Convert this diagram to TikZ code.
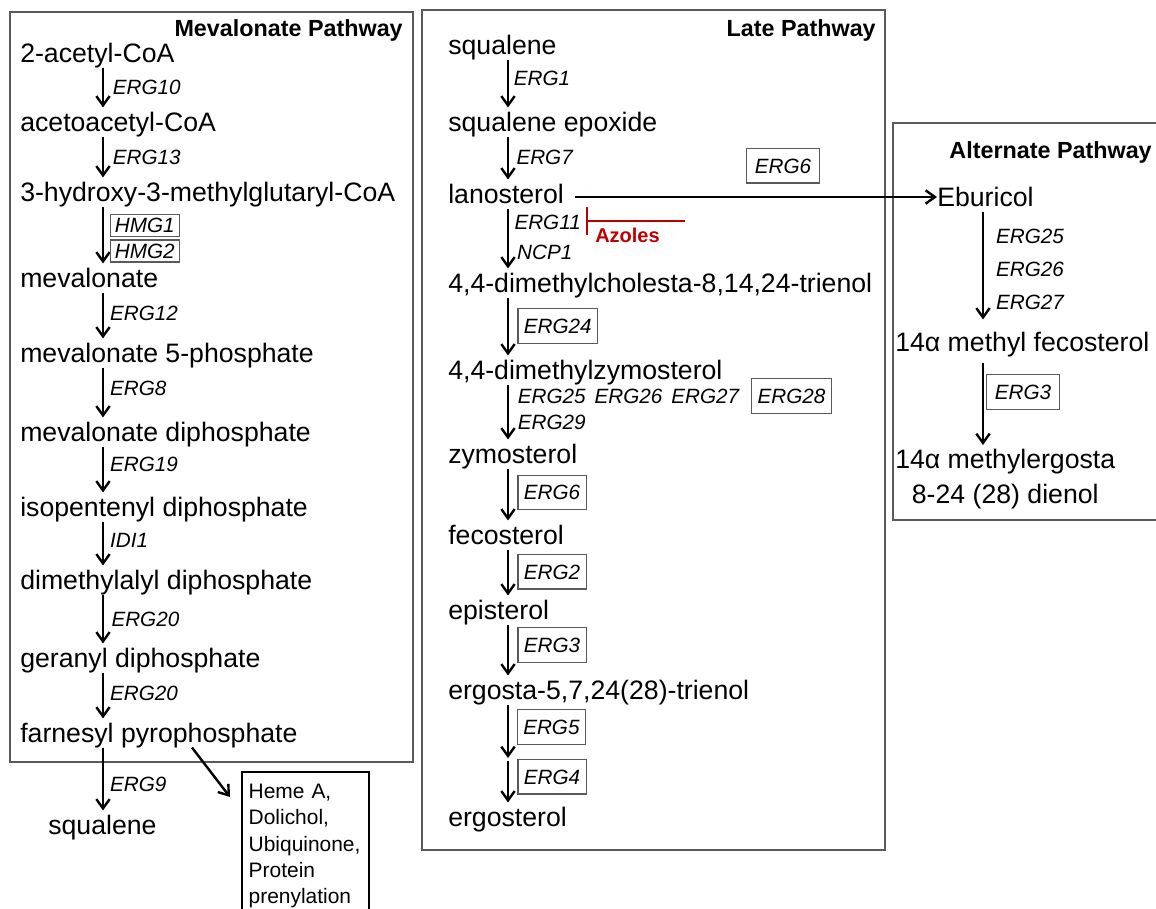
\documentclass[tikz,border=0pt]{standalone}
\usepackage{fontspec}
\setmainfont{Liberation Sans}
\usepackage{xcolor}
\usepackage{tikz}
\usetikzlibrary{arrows.meta, positioning}
\definecolor{azolered}{RGB}{192,0,0}
\definecolor{boxgray}{RGB}{90,90,90}

\begin{document}
\begin{tikzpicture}[
        x=0.75pt, y=-0.75pt,
        met/.style={anchor=west, font=\fontsize{20}{24}\selectfont, inner xsep=0pt, inner ysep=3.5pt, text height=14.4pt, text depth=0pt},
        enz/.style={font=\fontsize{15.5}{18}\selectfont\itshape, inner sep=1pt, text height=11.2pt, text depth=0pt},
        ebox/.style={enz, draw=boxgray, line width=0.9pt, inner xsep=4.5pt, minimum height=26pt},
        hbox/.style={enz, draw=boxgray, line width=0.9pt, inner xsep=3.5pt, minimum height=16.5pt},
        title/.style={anchor=east, font=\fontsize{17.5}{20}\selectfont\bfseries, inner sep=0pt, text height=12.6pt, text depth=0pt},
        pbox/.style={draw=boxgray, line width=1.3pt},
        line/.style={draw, -{Straight Barb[length=7pt,width=10pt]}, line width=1.8pt},
        inhib/.style={draw=azolered, line width=1.8pt, -{Bar[width=21pt]}}
    ]
    \clip (0,0) rectangle (1156,908);

    % Pathway boxes
    \draw[pbox] (10,12) rectangle (413,762);
    \draw[pbox] (422,10) rectangle (885,850);
    \draw[pbox] (893,123) rectangle (1170,520);
    \node[title] (mtitle) at (403,28) {Mevalonate Pathway};
    \node[title] (ltitle) at (876,28) {Late Pathway};
    \node[title] (atitle) at (1152,150) {Alternate Pathway};

    % Mevalonate pathway
    \coordinate (mcol) at (103,0);
    \node[met] (acetyl) at (20,53) {2-acetyl-CoA};
    \node[met] (acac) at (20,122) {acetoacetyl-CoA};
    \node[met] (hmgcoa) at (20,192) {3-hydroxy-3-methylglutaryl-CoA};
    \node[met] (meval) at (20,278) {mevalonate};
    \node[met] (mev5p) at (20,353) {mevalonate 5-phosphate};
    \node[met] (mevpp) at (20,432) {mevalonate diphosphate};
    \node[met] (ipp) at (20,507) {isopentenyl diphosphate};
    \node[met] (dmapp) at (20,580) {dimethylalyl diphosphate};
    \node[met] (gpp) at (20,658) {geranyl diphosphate};
    \node[met] (fpp) at (20,733) {farnesyl pyrophosphate};
    \node[met] (msqual) at (48,825) {squalene};

    \path[line] (acetyl.south -| mcol) -- node[enz, right, xshift=5.5pt] {ERG10} (acac.north -| mcol);
    \path[line] (acac.south -| mcol) -- node[enz, right, xshift=5.5pt] {ERG13} (hmgcoa.north -| mcol);
    \path[line] (hmgcoa.south -| mcol) -- node[hbox, right, xshift=5pt, pos=0.33] {HMG1} node[hbox, right, xshift=5pt, pos=0.78] {HMG2} (meval.north -| mcol);
    \path[line] (meval.south -| mcol) -- node[enz, right, xshift=3.5pt, pos=0.45] {ERG12} (mev5p.north -| mcol);
    \path[line] (mev5p.south -| mcol) -- node[enz, right, xshift=3.5pt, pos=0.42] {ERG8} (mevpp.north -| mcol);
    \path[line] (mevpp.south -| mcol) -- node[enz, right, xshift=3.5pt, pos=0.38] {ERG19} (ipp.north -| mcol);
    \path[line] (ipp.south -| mcol) -- node[enz, right, xshift=3.5pt, pos=0.42] {IDI1} (dmapp.north -| mcol);
    \path[line] (dmapp.south -| mcol) -- node[enz, right, xshift=4.5pt, pos=0.5] {ERG20} (gpp.north -| mcol);
    \path[line] (gpp.south -| mcol) -- node[enz, right, xshift=3.5pt, pos=0.45] {ERG20} (fpp.north -| mcol);
    \path[line] (fpp.south -| mcol) -- node[enz, right, xshift=3.5pt, pos=0.58] {ERG9} (msqual.north -| mcol);

    % Side products
    \node[anchor=north west, draw, line width=1.6pt, font=\fontsize{15.7}{19.7}\selectfont, align=left, text width=85pt, inner xsep=5pt, inner ysep=0pt, minimum height=111pt] (heme) at (241,771) {Heme A,\\ Dolichol,\\ Ubiquinone,\\ Protein\\ prenylation};
    \coordinate (hemein) at (230,797);
    \path[line] ([xshift=129pt]fpp.south west) -- (hemein);

    % Late pathway
    \coordinate (lcol) at (508,0);
    \node[met] (squal) at (448,45) {squalene};
    \node[met] (sqepox) at (448,122) {squalene epoxide};
    \node[met] (lano) at (448,194) {lanosterol};
    \node[met] (trienol) at (448,283) {4,4-dimethylcholesta-8,14,24-trienol};
    \node[met] (dmzym) at (448,370) {4,4-dimethylzymosterol};
    \node[met] (zym) at (448,454) {zymosterol};
    \node[met] (feco) at (448,535) {fecosterol};
    \node[met] (epi) at (448,610) {episterol};
    \node[met] (ergtri) at (448,690) {ergosta-5,7,24(28)-trienol};
    \node[met] (ergo) at (448,817) {ergosterol};
    \coordinate (erg54) at (508,758);

    \path[line] (squal.south -| lcol) -- node[enz, right, xshift=2.5pt, pos=0.39] {ERG1} (sqepox.north -| lcol);
    \path[line] (sqepox.south -| lcol) -- node[enz, right, xshift=4.5pt, pos=0.48] {ERG7} (lano.north -| lcol);
    \path[line] (lano.south -| lcol) -- node[enz, right, xshift=3pt, pos=0.23] {ERG11} node[enz, right, xshift=5pt, pos=0.72] {NCP1} (trienol.north -| lcol);
    \path[line] (trienol.south -| lcol) -- node[ebox, right, xshift=7pt, pos=0.49] {ERG24} (dmzym.north -| lcol);
    \path[line] (dmzym.south -| lcol) -- node[enz, right, xshift=5.5pt, pos=0.21] (e2527) {ERG25\hspace{6.75pt}ERG26\hspace{6.75pt}ERG27} node[enz, right, xshift=5.5pt, pos=0.68] {ERG29} (zym.north -| lcol);
    \node[ebox, right=7pt of e2527] (e28) {ERG28};
    \path[line] (zym.south -| lcol) -- node[ebox, right, xshift=7pt, pos=0.46] {ERG6} (feco.north -| lcol);
    \path[line] (feco.south -| lcol) -- node[ebox, right, xshift=7pt, pos=0.48] {ERG2} (epi.north -| lcol);
    \path[line] (epi.south -| lcol) -- node[ebox, right, xshift=7pt, pos=0.4] {ERG3} (ergtri.north -| lcol);
    \path[line] (ergtri.south -| lcol) -- node[ebox, right, xshift=6.5pt, pos=0.42] {ERG5} (erg54);
    \path[line, shorten <=2pt] (erg54) -- node[ebox, right, xshift=7pt, pos=0.42] {ERG4} (ergo.north -| lcol);

    % Azole block
    \coordinate (azfrom) at (685,221);
    \coordinate (azto) at (586,221);
    \draw[inhib] (azfrom) -- (azto);
    \node[anchor=west, font=\fontsize{15}{18}\selectfont\bfseries, text=azolered, inner sep=0pt, text height=10.8pt, text depth=0pt] (azoles) at (595,235) {Azoles};

    % Alternate pathway
    \coordinate (acol) at (983,0);
    \node[met] (ebur) at (937,197) {Eburicol};
    \node[met] (mfeco) at (895,342) {14α methyl fecosterol};
    \node[anchor=north west, font=\fontsize{20}{26}\selectfont, align=center, inner xsep=0pt, inner ysep=3pt] (mergo) at (895,445) {14α methylergosta\\8-24 (28) dienol};

    \path[line] ([xshift=8pt]lano.east |- ebur.west) -- node[ebox, above=10pt, pos=0.575, minimum width=55pt] {ERG6} (ebur.west);
    \path[line, shorten >=6pt] (ebur.south -| acol) -- node[right, xshift=8pt, font=\fontsize{15.5}{24.75}\selectfont\itshape, align=left, inner sep=1pt] {ERG25\\ERG26\\ERG27} (mfeco.north -| acol);
    \path[line, shorten <=5pt] (mfeco.south -| acol) -- node[ebox, right, xshift=2pt, pos=0.4, minimum width=55pt] {ERG3} (mergo.north -| acol);

\end{tikzpicture}
\end{document}
